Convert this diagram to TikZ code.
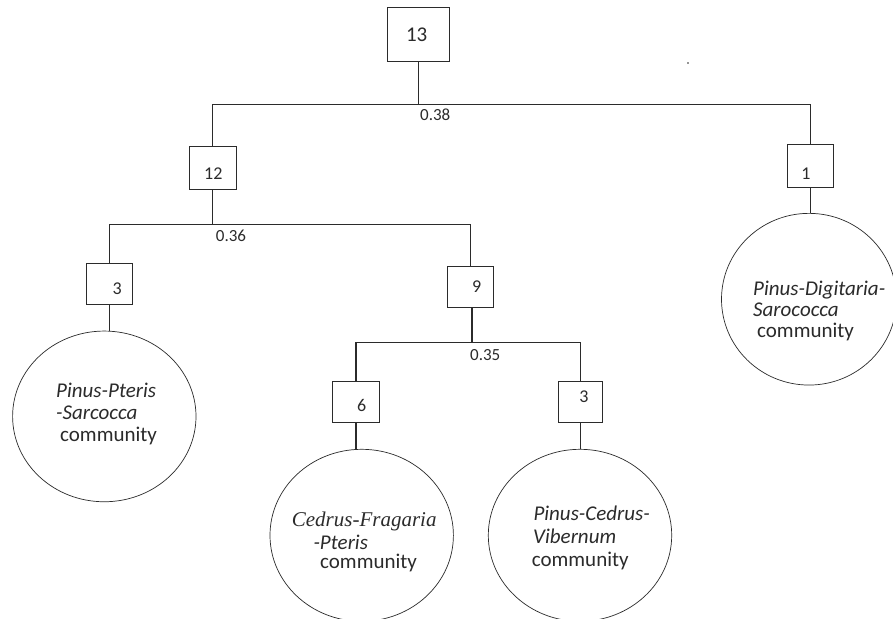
\documentclass[tikz,border=0pt]{standalone}
\usepackage{fontspec}
\setmainfont{Carlito}
\newfontfamily\cambriait{Liberation Serif}
\usetikzlibrary{shapes.geometric}
\definecolor{ink}{HTML}{2B2B2B}
\begin{document}
\begin{tikzpicture}[x=1pt,y=-1pt,
  box/.style={draw=ink, line width=0.9pt, minimum width=46pt, minimum height=41pt, inner sep=0pt},
  tree/.style={draw=ink, line width=1.1pt},
  comm/.style={draw=ink, line width=0.7pt, ellipse, inner sep=0pt},
  num/.style={font=\fontsize{18}{20}\selectfont, anchor=base, text=ink, inner sep=0pt},
  lab/.style={font=\fontsize{17}{19}\selectfont, anchor=base west, text=ink, inner sep=0pt},
  ctext/.style={font=\fontsize{21}{23}\selectfont, anchor=base west, text=ink, inner sep=0pt}]
\useasboundingbox (0,0) rectangle (893,618);
\fill[white] (0,0) rectangle (893,618);

% boxes
\node[box, minimum width=62pt, minimum height=54pt] (b13) at (418.3,34.5) {};
\node[box, minimum width=46.6pt, minimum height=42.3pt] (b12) at (212.7,168) {};
\node[box, minimum width=46.7pt, minimum height=43pt] (b1) at (810.3,165.8) {};
\node[box, minimum width=46pt, minimum height=41pt] (b3L) at (109.3,283.8) {};
\node[box, minimum width=46pt, minimum height=40.6pt] (b9) at (470.5,287) {};
\node[box, minimum width=47.6pt, minimum height=40.6pt] (b6) at (356,402) {};
\node[box, minimum width=43.7pt, minimum height=41pt] (b3R) at (580.5,402.2) {};

% numbers
\node[num, font=\fontsize{21}{23}\selectfont] (n13) at (416.7,41.7) {13};
\node[num] (n12) at (213.3,179) {12};
\node[num] (n1) at (806,179.3) {1};
\node[num] (n3L) at (117.3,294.3) {3};
\node[num] (n9) at (476.7,292.7) {9};
\node[num] (n6) at (361.7,411) {6};
\node[num] (n3R) at (584,402.7) {3};

% communities
\node[comm, minimum width=175pt, minimum height=171.7pt] (cR) at (809,299.2) {};
\node[comm, minimum width=183.4pt, minimum height=170.7pt] (cL) at (104.3,416.4) {};
\node[comm, minimum width=183.4pt, minimum height=172pt] (cC) at (361.7,535.3) {};
\node[comm, minimum width=183.4pt, minimum height=172pt] (cV) at (580,535.3) {};

% junctions
\coordinate (j1) at (418.3,104.3);
\coordinate (j2) at (212.7,224.3);
\coordinate (j3) at (472,342.3);

\draw[tree] (b13.south) -- (j1);
\draw[tree] (b12.north) |- (j1) -| (b1.north);
\draw[tree] (b12.south) -- (j2);
\draw[tree] (b3L.north) |- (j2) -| (b9.north);
\draw[tree] (b9.south -| j3) -- (j3);
\draw[tree] (b6.north) |- (j3) -| (b3R.north);
\draw[tree] (b1.south) -- (b1.south |- cR.north);
\draw[tree] (b3L.south) -- (b3L.south |- cL.north);
\draw[tree] (b6.south) -- (b6.south |- cC.north);
\draw[tree] (b3R.south) -- (b3R.south |- cV.north);

% distance labels
\node[lab] (d1) at (420,120.7) {0.38};
\node[lab] (d2) at (215.7,241.7) {0.36};
\node[lab] (d3) at (470,360) {0.35};

% community texts
\node[ctext] (tR1) at (753,295) {\itshape Pinus-Digitaria-};
\node[ctext] (tR2) at (753,316) {\itshape Sarococca};
\node[ctext] (tR3) at (757,337.5) {community};

\node[ctext] (tL1) at (56,397.7) {\itshape Pinus-Pteris};
\node[ctext] (tL2) at (56,419.3) {\itshape -Sarcocca};
\node[ctext] (tL3) at (60,441.7) {community};

\node[ctext, font=\fontsize{21}{23}\cambriait\itshape] (tC1) at (291.7,526.7) {Cedrus-Fragaria};
\node[ctext] (tC2) at (313.3,549.3) {\itshape -Pteris};
\node[ctext] (tC3) at (320,568.3) {community};

\node[ctext] (tV1) at (533.3,520) {\itshape Pinus-Cedrus-};
\node[ctext] (tV2) at (533,543.3) {\itshape Vibernum};
\node[ctext] (tV3) at (531.7,566) {community};

% stray dot
\fill[ink] (688,63) circle (0.9pt);
\end{tikzpicture}
\end{document}
